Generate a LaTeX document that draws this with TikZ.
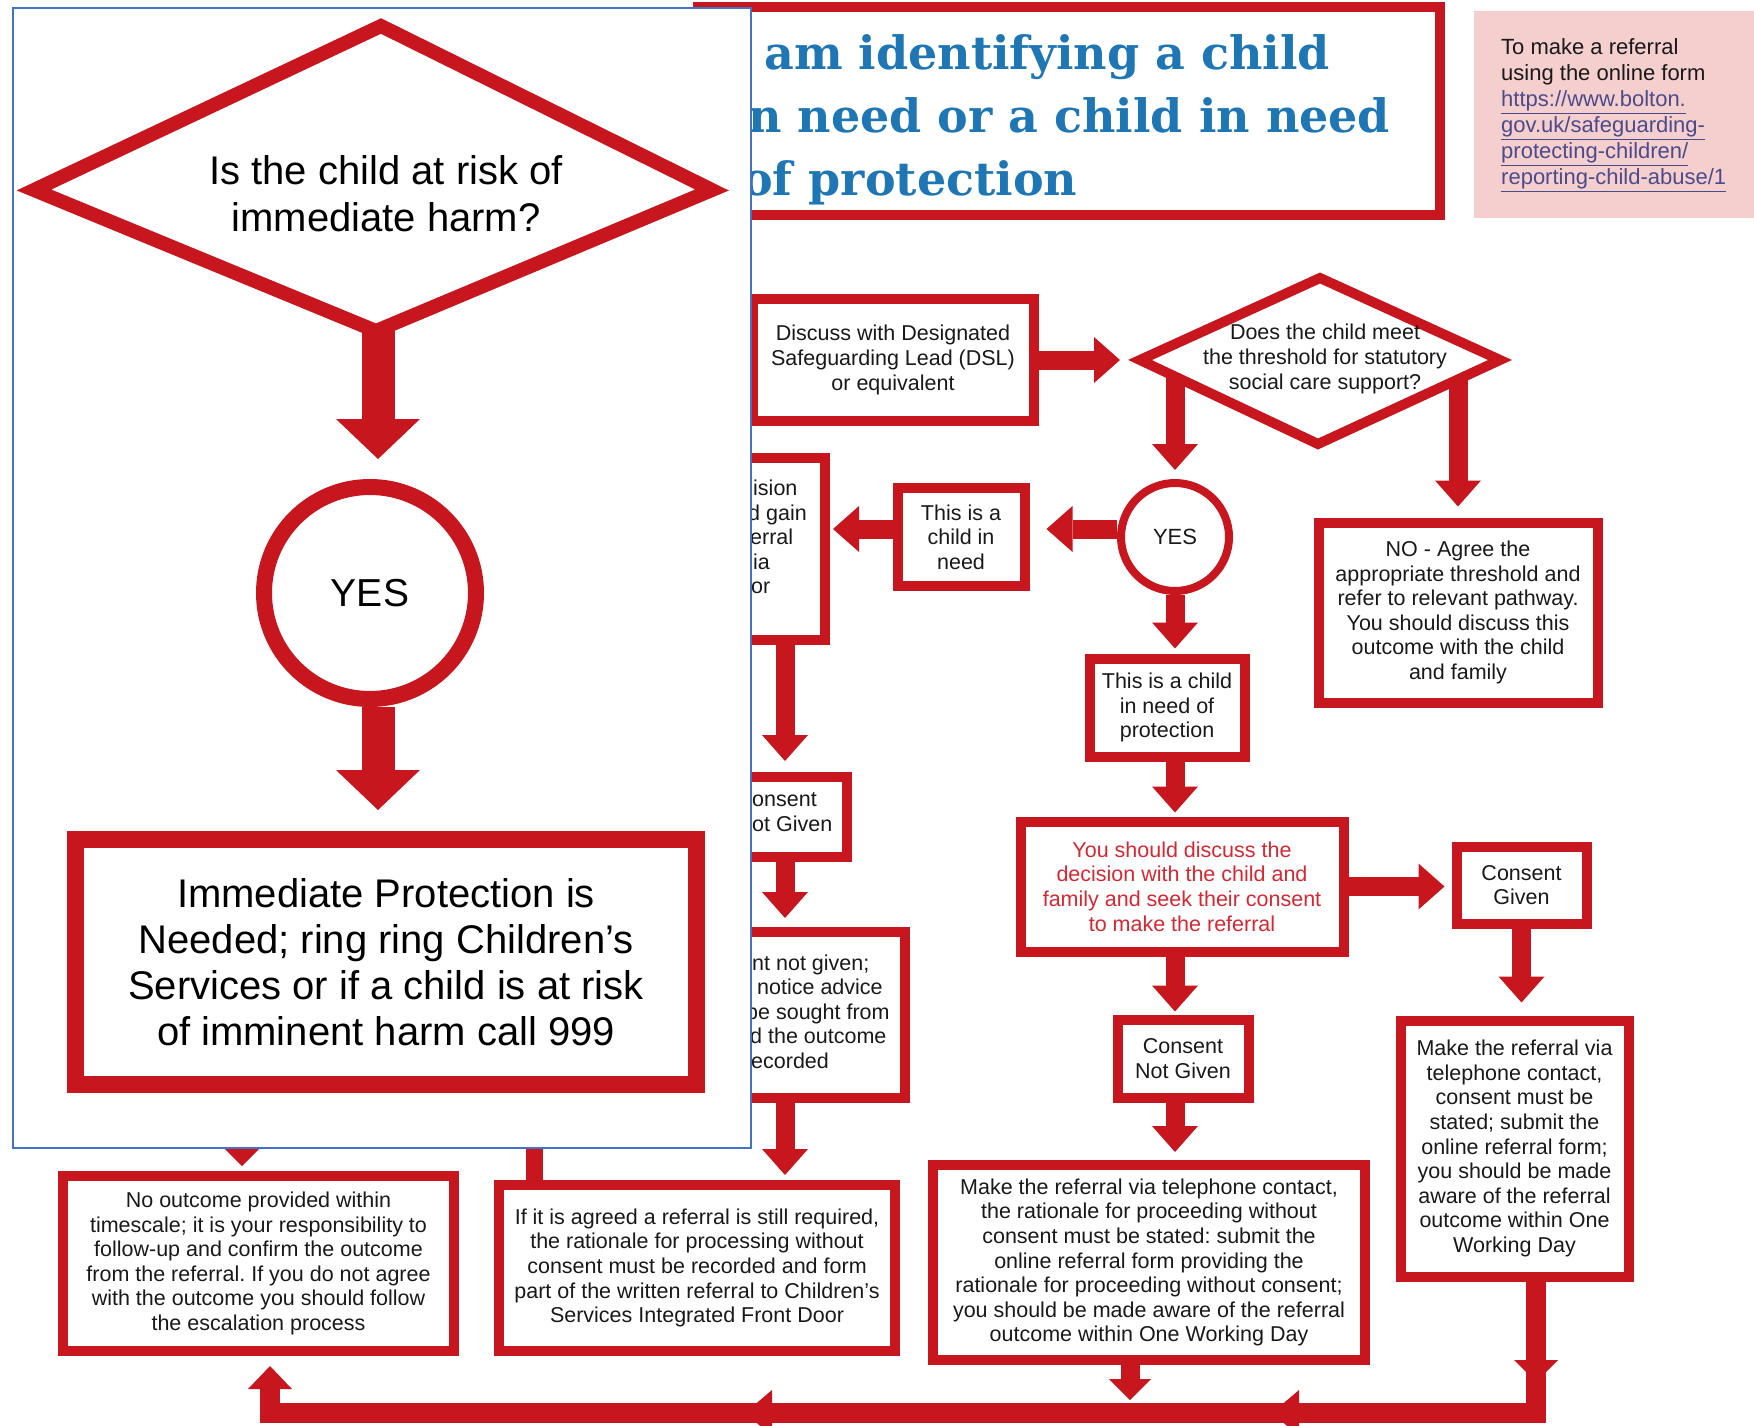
\documentclass[tikz,border=0pt]{standalone}
\usepackage{fontspec}
\setmainfont{Liberation Sans}
\newfontfamily\titlefont{DejaVu Serif}
\usetikzlibrary{arrows.meta}
\definecolor{red0}{RGB}{200,22,30}
\definecolor{redtext}{RGB}{214,40,50}
\definecolor{titleblue}{RGB}{30,118,180}
\definecolor{urlcol}{RGB}{75,75,140}
\definecolor{pink0}{RGB}{245,206,206}
\definecolor{ovblue}{RGB}{68,114,196}
\definecolor{txt}{RGB}{25,25,25}
\frenchspacing
\begin{document}
\begin{tikzpicture}[x=1pt,y=-1pt,line join=miter,
  box/.style={draw=red0, line width=10pt, rectangle, inner sep=0pt, align=center, text=txt, font=\fontsize{21.5}{24.6}\selectfont},
  rarrow/.style={draw=red0, line width=19pt, -{Triangle[length=26pt,width=46pt,line width=0pt]}},
  bigarrow/.style={draw=red0, line width=33pt, -{Triangle[length=40pt,width=84pt,line width=0pt]}},
  frag/.style={anchor=base west, inner sep=0pt, text=txt, font=\fontsize{21.5}{24.6}\selectfont},
  titleline/.style={anchor=base west, inner sep=0pt, text=titleblue, font=\titlefont\bfseries\fontsize{46}{62}\selectfont},
  pinkline/.style={anchor=base west, inner sep=0pt, text=txt, font=\fontsize{22}{24}\selectfont},
  urlline/.style={anchor=base west, inner sep=0pt, text=urlcol, font=\fontsize{22}{24}\selectfont}]
\useasboundingbox (0,0) rectangle (1754,1426);
\fill[white] (0,0) rectangle (1754,1426);

% ---------- underlying flowchart ----------
\node[draw=red0, line width=10pt, inner sep=0pt, minimum width=742pt, minimum height=208pt] (titlebox) at (1069,111) {};
\node[titleline] (t1) at (764,70) {am identifying a child};
\node[titleline] (t2) at (748,132.5) {n need or a child in need};
\node[titleline] (t3) at (742,195) {of protection};

\node[fill=pink0, inner sep=0pt, minimum width=280pt, minimum height=207pt, anchor=north west] (pinkbox) at (1474,11) {};
\node[pinkline] (p1) at (1501,55) {To make a referral};
\node[pinkline] (p2) at (1501,81) {using the online form};
\node[urlline] (p3) at (1501,107) {\underline{https://www.bolton.}};
\node[urlline] (p4) at (1501,133) {\underline{gov.uk/safeguarding-}};
\node[urlline] (p5) at (1501,159) {\underline{protecting-children/}};
\node[urlline] (p6) at (1501,185) {\underline{reporting-child-abuse/1}};

\node[box, minimum width=281pt, minimum height=122pt] (dsl) at (893,360) {Discuss with Designated\\Safeguarding Lead (DSL)\\or equivalent};

\draw[red0, line width=10pt] (1320,278) -- (1500,360) -- (1318,444) -- (1140,360) -- cycle;
\node[align=center, text=txt, font=\fontsize{21.5}{24.6}\selectfont] (d2t) at (1325,359) {Does the child meet\\the threshold for statutory\\social care support?};
\coordinate (d2w) at (1140,360);
\coordinate (d2a) at (1175,377);
\coordinate (d2b) at (1458,380);

\node[circle, draw=red0, line width=8pt, minimum size=108pt, inner sep=0pt, text=txt, font=\fontsize{22}{24}\selectfont] (c2) at (1175,537) {YES};
\node[box, minimum width=127pt, minimum height=98pt] (cin) at (961,537) {This is a\\child in\\need};
\node[box, minimum width=80pt, minimum height=182pt] (isn) at (785,549) {};
\node[box, minimum width=102pt, minimum height=80pt] (cngL) at (796,817) {};
\node[box, minimum width=160pt, minimum height=166pt] (nng) at (825,1015) {};
\node[box, minimum width=155pt, minimum height=98pt] (cinp) at (1167,707.5) {This is a child\\in need of\\protection};
\node[box, minimum width=323pt, minimum height=130pt, text=redtext] (discuss) at (1182,886.5) {You should discuss the\\decision with the child and\\family and seek their consent\\to make the referral};
\node[box, minimum width=130pt, minimum height=77pt] (cg) at (1521.5,885) {Consent\\Given};
\node[box, minimum width=131pt, minimum height=78pt] (cng) at (1183,1058.5) {Consent\\Not Given};
\node[box, minimum width=279pt, minimum height=180pt] (no) at (1458,612.5) {NO - Agree the\\appropriate threshold and\\refer to relevant pathway.\\You should discuss this\\outcome with the child\\and family};
\node[box, minimum width=228pt, minimum height=256pt] (rref) at (1514.5,1148.5) {Make the referral via\\telephone contact,\\consent must be\\stated; submit the\\online referral form;\\you should be made\\aware of the referral\\outcome within One\\Working Day};
\node[box, minimum width=432pt, minimum height=195pt] (mref) at (1149,1262.5) {Make the referral via telephone contact,\\the rationale for proceeding without\\consent must be stated: submit the\\online referral form providing the\\rationale for proceeding without consent;\\you should be made aware of the referral\\outcome within One Working Day};
\node[box, minimum width=396pt, minimum height=166pt] (agreed) at (697,1268) {If it is agreed a referral is still required,\\the rationale for processing without\\consent must be recorded and form\\part of the written referral to Children’s\\Services Integrated Front Door};
\node[box, minimum width=391pt, minimum height=175pt] (noout) at (258.5,1263.5) {No outcome provided within\\timescale; it is your responsibility to\\follow-up and confirm the outcome\\from the referral. If you do not agree\\with the outcome you should follow\\the escalation process};

% fragments of partly hidden boxes
\node[frag] (f1) at (753,495.5) {ision};
\node[frag] (f2) at (748,520) {d gain};
\node[frag] (f3) at (750,544.5) {erral};
\node[frag] (f4) at (753,569) {ia};
\node[frag] (f5) at (751,593.5) {or};
\node[frag] (f6) at (752,806) {onsent};
\node[frag] (f7) at (752,831) {ot Given};
\node[frag] (f8) at (752,970) {nt not given;};
\node[frag] (f9) at (757,994.5) {notice advice};
\node[frag] (f10) at (746,1019) {be sought from};
\node[frag] (f11) at (750,1043.5) {d the outcome};
\node[frag] (f12) at (751,1068) {ecorded};

% connectors
\draw[rarrow, shorten >=20pt] (dsl.east) -- (d2w);
\draw[rarrow, shorten >=9pt] (d2a) -- (d2a |- c2.north);
\draw[rarrow, shorten >=11pt] (d2b) -- (d2b |- no.north);
\draw[rarrow, shorten >=17pt] ([yshift=8pt]c2.west) -- ([yshift=8pt]cin.east);
\draw[rarrow, shorten >=3pt] ([yshift=8pt]cin.west) -- ([yshift=8pt]cin.west -| isn.east);
\draw[rarrow, shorten >=11pt] (isn.south) -- (isn.south |- cngL.north);
\draw[rarrow, shorten >=9pt] (isn.south |- cngL.south) -- (isn.south |- nng.north);
\draw[rarrow, shorten >=5pt] (isn.south |- nng.south) -- (isn.south |- agreed.north);
\draw[rarrow, shorten >=5pt] (c2.south) -- (c2.south |- cinp.north);
\draw[rarrow, shorten >=4pt] (c2.south |- cinp.south) -- (c2.south |- discuss.north);
\draw[rarrow, shorten >=7pt] (discuss.east) -- (discuss.east -| cg.west);
\draw[rarrow, shorten >=13pt] (cg.south) -- (cg.south |- rref.north);
\draw[rarrow, shorten >=3pt] (c2.south |- discuss.south) -- (c2.south |- cng.north);
\draw[rarrow, shorten >=8pt] (c2.south |- cng.south) -- (c2.south |- mref.north);
\draw[draw=red0, line width=19pt, -{Triangle[length=21pt,width=42pt,line width=0pt]}] ([xshift=-19pt]mref.south) -- ++(0,35);

\coordinate (barR) at (1536,1413);
\coordinate (barL) at (270,1413);
\draw[red0, line width=20pt, -{Triangle[length=23pt,width=44pt,line width=0pt]}, shorten >=10pt]
  ([xshift=21.5pt]rref.south) -- (barR) -- (barL) -- ([xshift=11.5pt]noout.south);
\fill[red0] (1514,1360) -- (1558,1360) -- (1536,1382) -- cycle;
\fill[red0] (772,1390) -- (745,1413) -- (772,1436) -- cycle;
\fill[red0] (1299,1390) -- (1272,1413) -- (1299,1436) -- cycle;

\coordinate (hidA) at (534,1130);
\draw[red0, line width=17pt] (hidA) -- (hidA |- agreed.north);
\coordinate (hidB) at (242,1090);
\draw[draw=red0, line width=17pt, -{Triangle[length=30pt,width=60pt,line width=0pt]}, shorten >=5pt] (hidB) -- (hidB |- noout.north);

% ---------- overlay panel ----------
\fill[white] (13,8) rectangle (751,1148);
\draw[ovblue, line width=1.5pt] (13,8) rectangle (751,1148);

\draw[red0, line width=14pt] (381,26) -- (712,190) -- (376,331) -- (34,190) -- cycle;
\node[align=center, text=black, font=\fontsize{40}{47}\selectfont] (d1t) at (386,194) {Is the child at risk of\\immediate harm?};
\coordinate (d1b) at (378,331);
\node[circle, draw=red0, line width=16pt, minimum size=212pt, inner sep=0pt, text=black, font=\fontsize{39}{44}\selectfont] (c1) at (370,593) {YES};
\node[draw=red0, line width=17pt, inner sep=0pt, minimum width=621pt, minimum height=245pt, align=center, text=black, font=\fontsize{40}{46}\selectfont] (box1) at (386,962) {Immediate Protection is\\Needed; ring ring Children’s\\Services or if a child is at risk\\of imminent harm call 999};
\draw[bigarrow, shorten >=20pt] (d1b) -- (d1b |- c1.north);
\draw[bigarrow, shorten >=21pt] (d1b |- c1.south) -- (d1b |- box1.north);
\end{tikzpicture}
\end{document}
